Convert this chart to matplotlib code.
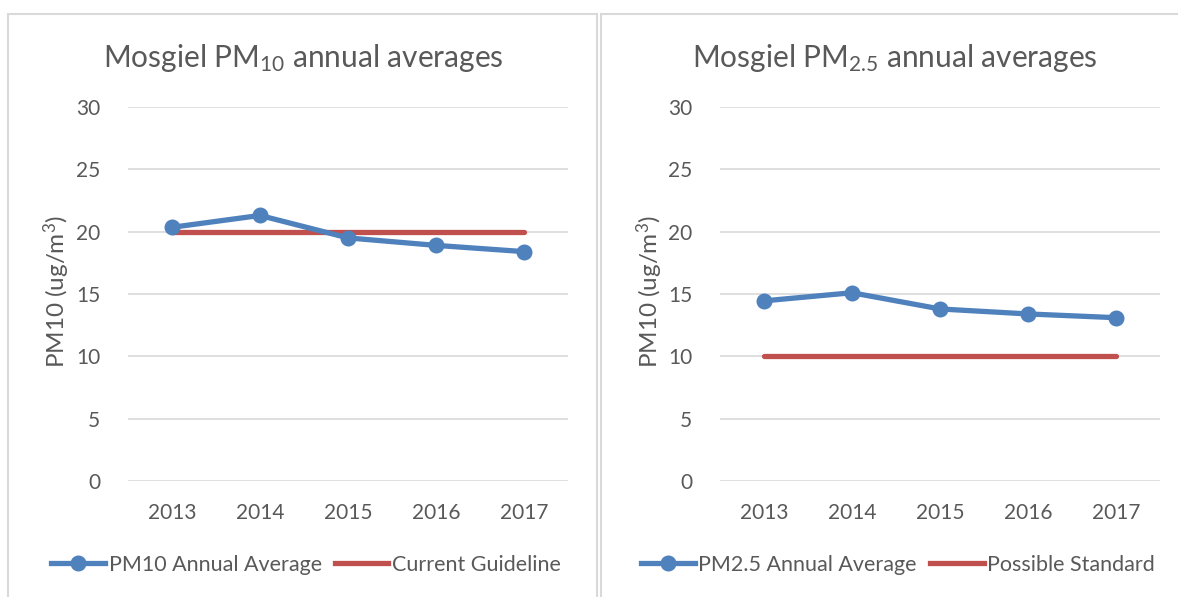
import matplotlib
matplotlib.use("Agg")
import matplotlib.pyplot as plt
from matplotlib.patches import Rectangle
from matplotlib.lines import Line2D

plt.rcParams['font.family'] = ['Lato', 'DejaVu Sans']
plt.rcParams['mathtext.default'] = 'regular'

years = ['2013', '2014', '2015', '2016', '2017']
pm10 = [20.35, 21.3, 19.5, 18.9, 18.4]
guideline = [20, 20, 20, 20, 20]
pm25 = [14.45, 15.1, 13.8, 13.4, 13.1]
standard = [10, 10, 10, 10, 10]

blue = '#4f81bd'
red = '#c0504d'
txt = '#595959'
grid = '#d9d9d9'

W, H = 1178, 597
fig = plt.figure(figsize=(W / 100, H / 100), dpi=100)

# panel frames
fig.add_artist(Rectangle((8 / W, -0.05), 589 / W, 1.05 - 14 / H, transform=fig.transFigure,
                         fill=False, edgecolor=grid, lw=1.5))
fig.add_artist(Rectangle((601 / W, -0.05), 0.6, 1.05 - 14 / H, transform=fig.transFigure,
                         fill=False, edgecolor=grid, lw=1.5))

panels = [
    (128, 'Mosgiel PM$_{10}$ annual averages', 303, pm10, guideline,
     'PM10 Annual Average', 'Current Guideline', 306, 57),
    (720, 'Mosgiel PM$_{2.5}$ annual averages', 895, pm25, standard,
     'PM2.5 Annual Average', 'Possible Standard', 898, 650),
]

for left, title, tx, series, ref, lab1, lab2, lx, ylx in panels:
    ax = fig.add_axes([left / W, (H - 481) / H, 440 / W, 374 / H])
    x = range(len(years))
    ax.plot(x, ref, color=red, lw=3.8, solid_capstyle='round', zorder=2)
    ax.plot(x, series, color=blue, lw=3.8, marker='o', markersize=10.5,
            solid_capstyle='round', zorder=3)
    ax.set_xlim(-0.5, 4.5)
    ax.set_ylim(0, 30)
    ax.set_yticks([0, 5, 10, 15, 20, 25, 30])
    ax.set_xticks(list(x))
    ax.set_xticklabels(years)
    ax.tick_params(length=0, labelsize=15, colors=txt)
    ax.tick_params(axis='y', pad=20)
    ax.tick_params(axis='x', pad=16)
    ax.grid(axis='y', color=grid, lw=1.2)
    ax.set_axisbelow(True)
    for s in ax.spines.values():
        s.set_visible(False)
    fig.text(tx / W, (H - 67) / H, title, ha='center', va='baseline',
             fontsize=21.5, color=txt)
    fig.text(ylx / W, (H - 292) / H, 'PM10 (ug/m$^3$)', rotation=90,
             ha='center', va='center', fontsize=17.5, color=txt)
    handles = [Line2D([], [], color=blue, lw=3.8, marker='o', markersize=10.5),
               Line2D([], [], color=red, lw=3.8)]
    fig.legend(handles, [lab1, lab2], loc='center', bbox_to_anchor=(lx / W, (H - 565) / H),
               ncol=2, frameon=False, fontsize=15.5, labelcolor=txt,
               handlelength=2.5, handletextpad=0.15, columnspacing=0.6)

fig.savefig('out.png', dpi=100, facecolor='white')
